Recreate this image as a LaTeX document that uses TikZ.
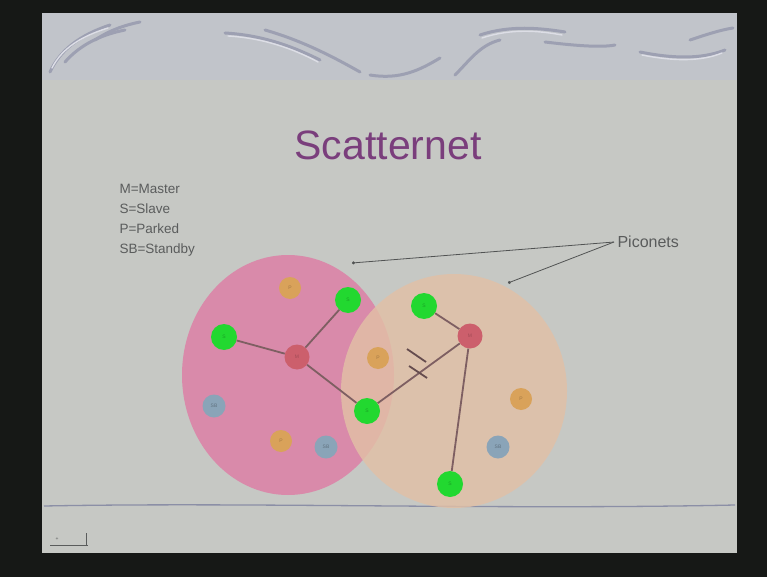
\documentclass[tikz,border=0pt]{standalone}
\usepackage{fontspec}
\setmainfont{Liberation Sans}
\usetikzlibrary{arrows.meta}
\definecolor{frame}{HTML}{161816}
\definecolor{slidebg}{HTML}{C6C8C4}
\definecolor{banner}{HTML}{C1C4CA}
\definecolor{swirl}{HTML}{9DA0B2}
\definecolor{swirlhi}{HTML}{DDDEE6}
\definecolor{titlec}{HTML}{7A3E7C}
\definecolor{legendc}{HTML}{5A5C5C}
\definecolor{pinkc}{HTML}{D98AAA}
\definecolor{peachc}{HTML}{E2C0A6}
\definecolor{greenc}{HTML}{22D830}
\definecolor{redc}{HTML}{CC5F6C}
\definecolor{orangec}{HTML}{D9A25A}
\definecolor{bluec}{HTML}{8AA4B8}
\definecolor{linkc}{HTML}{7E5F62}
\definecolor{basec}{HTML}{8B8FA6}
\tikzset{
  dev/.style={circle, inner sep=0pt, font=\fontsize{5}{5}\selectfont},
  master/.style={dev, fill=redc, minimum size=25pt, text=redc!80!black},
  slave/.style={dev, fill=greenc, minimum size=26pt, text=greenc!75!black},
  parked/.style={dev, fill=orangec, minimum size=22pt, text=orangec!75!black},
  standby/.style={dev, fill=bluec, minimum size=23pt, text=bluec!70!black},
  link/.style={draw=linkc, line width=1.8pt},
  callout/.style={draw=legendc!90!black, line width=0.8pt, -{Circle[length=3pt]}},
  legend/.style={text=legendc, font=\fontsize{13.5}{15}\selectfont, anchor=west},
  swirlline/.style={draw=swirl, line width=3pt, line cap=round},
  swirlhl/.style={draw=swirlhi, line width=1.4pt, line cap=round}
}
\begin{document}
\begin{tikzpicture}[x=1pt,y=-1pt]
\useasboundingbox (0,0) rectangle (767,577);
\fill[frame] (0,0) rectangle (767,577);
\fill[slidebg] (42,13) rectangle (737,553);
\fill[banner] (42,13) rectangle (737,80);
% banner swirls
\draw[swirlline] (50,72) .. controls (60,50) and (80,35) .. (110,25);
\draw[swirlline] (65,62) .. controls (80,45) and (100,35) .. (125,30);
\draw[swirlline] (95,40) .. controls (110,30) and (125,25) .. (140,22);
\draw[swirlline] (225,33) .. controls (260,35) and (290,45) .. (320,60);
\draw[swirlline] (265,30) .. controls (300,40) and (330,55) .. (360,72);
\draw[swirlline] (370,75) .. controls (400,80) and (420,70) .. (440,58);
\draw[swirlline] (455,75) .. controls (470,60) and (480,45) .. (500,40);
\draw[swirlline] (480,35) .. controls (510,25) and (540,28) .. (565,32);
\draw[swirlline] (545,42) .. controls (570,45) and (600,48) .. (615,45);
\draw[swirlline] (640,52) .. controls (670,58) and (700,60) .. (725,50);
\draw[swirlline] (690,40) .. controls (705,35) and (720,30) .. (733,28);
\draw[swirlhl] (52,68) .. controls (62,48) and (82,36) .. (108,28);
\draw[swirlhl] (228,36) .. controls (262,38) and (292,48) .. (318,62);
\draw[swirlhl] (482,38) .. controls (512,28) and (540,31) .. (562,35);
\draw[swirlhl] (642,55) .. controls (672,61) and (700,62) .. (722,53);
% base line
\draw[basec, line width=1.3pt] (44,506) .. controls (250,502) and (500,510) .. (735,505);
% small footer icon
\draw[legendc, line width=0.7pt] (50,545) -- (88,545);
\draw[legendc, line width=0.7pt] (86,533) -- (86,545);
\node[legend, font=\fontsize{5}{5}\selectfont] (icon) at (52,539) {+};
% title and legend
\node[text=titlec, font=\fontsize{41}{44}\selectfont] (title) at (388,145) {Scatternet};
\node[legend] (l1) at (116,189) {M=Master};
\node[legend] (l2) at (116,209) {S=Slave};
\node[legend] (l3) at (116,229) {P=Parked};
\node[legend] (l4) at (116,250) {SB=Standby};
\node[legend, font=\fontsize{16}{18}\selectfont] (pico) at (614,242) {Piconets};
% piconets
\fill[pinkc] (288,375) ellipse [x radius=106pt, y radius=120pt];
\fill[peachc, opacity=0.82] (454,391) ellipse [x radius=113pt, y radius=117pt];
\coordinate (c1) at (352,263);
\coordinate (c2) at (508,283);
\draw[callout] (pico.west) -- (c1);
\draw[callout] (pico.west) -- (c2);
% devices
\node[master] (m1) at (297,357) {M};
\node[master] (m2) at (470,336) {M};
\node[slave] (s1) at (224,337) {S};
\node[slave] (s2) at (348,300) {S};
\node[slave] (s3) at (367,411) {S};
\node[slave] (s4) at (424,306) {S};
\node[slave] (s5) at (450,484) {S};
\node[parked] (p1) at (290,288) {P};
\node[parked] (p2) at (378,358) {P};
\node[parked] (p3) at (281,441) {P};
\node[parked] (p4) at (521,399) {P};
\node[standby] (b1) at (214,406) {SB};
\node[standby] (b2) at (326,447) {SB};
\node[standby] (b3) at (498,447) {SB};
% links
\draw[link] (m1) -- (s1);
\draw[link] (m1) -- (s2);
\draw[link] (m1) -- (s3);
\draw[link] (s3) -- (m2);
\draw[link] (m2) -- (s4);
\draw[link] (m2) -- (s5);
% break marks
\coordinate (k1) at (407,349);
\coordinate (k2) at (426,362);
\coordinate (k3) at (409,366);
\coordinate (k4) at (427,378);
\draw[linkc!80!black, line width=1.8pt] (k1) -- (k2);
\draw[linkc!80!black, line width=1.8pt] (k3) -- (k4);
\end{tikzpicture}
\end{document}
